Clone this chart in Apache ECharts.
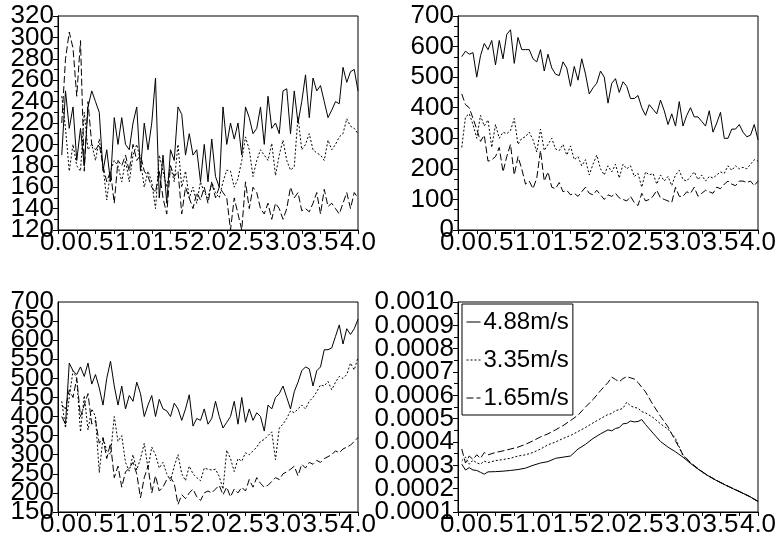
<!DOCTYPE html>
<html>
<head>
<meta charset="utf-8">
<script src="https://cdn.jsdelivr.net/npm/echarts@6/dist/echarts.min.js"></script>
<style>
html,body{margin:0;padding:0;background:#fff;}
#c{width:777px;height:545px;}
</style>
</head>
<body>
<div id="c"></div>
<script>
// x positions (shared by panels 1-3)
const xs = [0.05,0.10,0.15,0.20,0.25,0.30,0.35,0.40,0.45,0.50,
0.55,0.60,0.65,0.70,0.75,0.80,0.85,0.90,0.95,1.00,
1.05,1.10,1.15,1.20,1.25,1.30,1.35,1.40,1.45,1.50,
1.55,1.60,1.65,1.70,1.75,1.80,1.85,1.90,1.95,2.00,
2.05,2.10,2.15,2.20,2.25,2.30,2.35,2.40,2.45,2.50,
2.55,2.60,2.65,2.70,2.75,2.80,2.85,2.90,2.95,3.00,
3.05,3.10,3.15,3.20,3.25,3.30,3.35,3.40,3.45,3.50,
3.55,3.60,3.65,3.70,3.75,3.80,3.85,3.90,3.95,4.00];

const seriesNames = ['4.88m/s','3.35m/s','1.65m/s'];
const xTickLabels = ['0.0','0.5','1.0','1.5','2.0','2.5','3.0','3.5','4.0'];

// Panel 1 (top-left)
const p1_488 = [190,250,215,235,185,215,180,235,250,240,
230,175,195,165,225,200,225,200,195,220,
235,175,220,195,220,262,150,190,145,195,
185,235,228,190,210,190,195,165,200,165,
205,170,160,235,200,220,205,220,190,235,
225,210,215,235,200,245,215,220,210,250,
252,210,250,220,240,265,225,262,250,255,
240,225,232,240,238,272,258,268,270,250];
const p1_335 = [245,215,175,200,180,175,230,195,200,185,
205,180,148,175,185,180,165,185,165,190,
200,185,160,175,165,140,190,175,160,180,
165,200,160,175,150,160,145,165,155,150,
165,155,150,165,176,175,160,168,185,207,
195,170,185,195,190,185,201,171,190,204,
185,176,179,226,195,200,210,195,192,190,
185,204,195,200,207,210,224,217,215,210];
const p1_165 = [220,280,305,290,245,297,175,240,200,195,
200,180,165,175,145,185,180,190,175,200,
185,190,175,170,160,155,175,150,135,180,
170,175,135,160,150,140,155,148,160,145,
165,150,160,155,150,120,150,135,120,165,
140,160,155,140,135,145,130,145,140,130,
140,160,150,155,138,140,137,145,155,135,
158,142,145,140,135,145,155,140,155,150];

// Panel 2 (top-right)
const p2_488 = [567,585,575,580,500,570,610,590,620,540,
620,560,640,655,545,630,590,590,590,560,
550,590,520,575,530,510,505,550,530,470,
535,490,560,510,445,465,480,520,500,415,
480,495,450,485,470,430,430,440,400,375,
410,395,380,425,390,345,380,340,420,340,
375,400,370,370,355,340,390,320,350,385,
300,300,330,330,345,320,305,310,345,295];
const p2_335 = [270,370,380,345,300,375,340,360,270,345,
300,320,315,325,365,280,300,305,320,295,
255,330,260,280,300,265,260,280,245,275,
230,240,210,230,180,215,245,200,180,210,
190,215,170,215,200,210,175,185,140,190,
180,185,150,180,160,175,145,180,195,165,
160,175,190,165,180,160,175,170,180,190,
185,210,195,210,200,205,200,215,230,225];
const p2_165 = [445,410,400,365,330,290,310,225,230,240,
270,190,240,280,180,240,200,150,160,135,
170,260,160,190,140,135,155,125,130,115,
120,110,125,140,120,115,130,115,100,115,
110,120,105,100,95,110,90,80,120,95,
100,110,130,105,100,95,90,140,110,110,
125,120,140,110,120,130,125,120,140,135,
150,160,150,145,160,160,155,160,145,160];

// Panel 3 (bottom-left)
const p3_488 = [400,380,540,520,510,530,505,540,485,510,
475,430,500,545,480,430,480,420,455,440,
490,460,400,430,455,400,445,420,415,400,
435,420,390,420,457,375,395,390,420,380,
395,440,400,370,385,400,440,380,450,385,
420,390,410,400,362,430,420,450,460,480,
450,420,465,490,520,530,525,480,520,530,
575,575,580,610,640,590,630,615,630,655];
const p3_335 = [440,370,450,520,500,360,455,365,420,400,
253,345,310,300,400,335,350,280,257,300,
260,290,330,265,320,300,265,280,250,232,
270,300,250,232,270,250,240,232,265,262,
260,262,243,210,312,290,256,290,283,305,
300,310,320,335,340,350,360,287,370,380,
395,415,410,420,430,420,440,450,465,483,
480,492,470,490,505,500,510,540,522,555];
const p3_165 = [430,420,470,450,500,400,430,460,380,390,
330,345,290,330,240,270,215,255,265,280,
250,187,240,270,200,245,205,215,235,240,
225,170,195,185,200,210,190,180,200,205,
200,210,220,195,215,190,210,200,215,205,
235,215,240,225,215,220,230,240,235,250,
255,262,270,245,275,265,280,275,285,280,
290,295,300,310,305,315,320,325,335,345];

// Panel 4 (bottom-right)
const xs4 = [0.05,0.10,0.15,0.20,0.25,0.30,0.35,0.40,
0.5,0.6,0.7,0.8,0.9,1.0,1.1,1.2,1.3,1.4,1.5,1.6,1.7,1.8,1.9,2.0,
2.05,2.10,2.15,2.20,2.25,2.30,2.35,2.40,2.45,2.50,
2.6,2.7,2.8,2.9,3.0,3.1,3.2,3.3,3.4,3.5,3.6,3.7,3.8,3.9,4.0];
const p4_488 = [3.05e-4,2.80e-4,2.90e-4,2.80e-4,2.78e-4,2.70e-4,2.62e-4,2.72e-4,
2.73e-4,2.75e-4,2.78e-4,2.82e-4,2.88e-4,3.00e-4,3.10e-4,3.16e-4,3.30e-4,3.35e-4,3.40e-4,3.70e-4,3.90e-4,4.15e-4,4.35e-4,4.52e-4,
4.48e-4,4.58e-4,4.62e-4,4.78e-4,4.80e-4,4.90e-4,4.86e-4,4.88e-4,4.96e-4,4.75e-4,
4.38e-4,4.02e-4,3.78e-4,3.58e-4,3.35e-4,3.08e-4,2.84e-4,2.62e-4,2.43e-4,2.26e-4,2.10e-4,1.95e-4,1.80e-4,1.64e-4,1.45e-4];
const p4_335 = [3.20e-4,3.35e-4,3.05e-4,3.22e-4,3.10e-4,3.05e-4,3.18e-4,3.12e-4,
3.20e-4,3.25e-4,3.30e-4,3.40e-4,3.45e-4,3.55e-4,3.70e-4,3.88e-4,4.00e-4,4.15e-4,4.28e-4,4.45e-4,4.62e-4,4.82e-4,5.00e-4,5.18e-4,
5.22e-4,5.35e-4,5.38e-4,5.45e-4,5.70e-4,5.55e-4,5.48e-4,5.45e-4,5.30e-4,5.25e-4,
5.05e-4,4.78e-4,4.55e-4,4.15e-4,3.42e-4,3.10e-4,2.85e-4,2.62e-4,2.43e-4,2.26e-4,2.10e-4,1.95e-4,1.80e-4,1.64e-4,1.45e-4];
const p4_165 = [3.70e-4,3.10e-4,3.40e-4,3.25e-4,3.45e-4,3.30e-4,3.55e-4,3.45e-4,
3.55e-4,3.62e-4,3.70e-4,3.78e-4,3.90e-4,4.05e-4,4.22e-4,4.35e-4,4.52e-4,4.70e-4,4.92e-4,5.15e-4,5.50e-4,5.82e-4,6.20e-4,6.55e-4,
6.78e-4,6.68e-4,6.58e-4,6.72e-4,6.80e-4,6.75e-4,6.70e-4,6.55e-4,6.35e-4,6.15e-4,
5.60e-4,5.10e-4,4.65e-4,4.05e-4,3.45e-4,3.12e-4,2.86e-4,2.63e-4,2.44e-4,2.27e-4,2.11e-4,1.96e-4,1.81e-4,1.65e-4,1.46e-4];

const FONT = 'Liberation Sans, Arial, sans-serif';
const lineTypes = ['solid', [2,2], [7,3]];

function pairs(xv, yv){ return xv.map((x,i)=>[x, yv[i]]); }

const grids = [
  {left:58, top:16, width:300, height:214},
  {left:458, top:16, width:300, height:214},
  {left:58, top:302, width:300, height:210},
  {left:458, top:302, width:300, height:210}
].map(g => Object.assign({show:true, borderColor:'#000', borderWidth:1, containLabel:false, outerBoundsMode:'none'}, g));

function xAxis(i){
  return {
    type:'value', gridIndex:i, min:0, max:4, interval:0.25,
    axisLine:{show:true, lineStyle:{color:'#000', width:1}},
    axisTick:{show:true, length:4, lineStyle:{color:'#000'}},
    splitLine:{show:false},
    axisLabel:{
      color:'#000', fontSize:26, fontFamily:FONT, margin:0,
      showMinLabel:true, showMaxLabel:true, hideOverlap:false,
      formatter: v => { const k = Math.round(v*2); return Math.abs(v*2-k) < 1e-6 ? xTickLabels[k] : ''; }
    }
  };
}
// parity: null = all labels; 0 = even-index labels; 1 = odd-index labels
function yAxis(i, min, max, interval, split, fmt, parity){
  const n = Math.round((max - min) / interval);
  const show = k => parity === null || (k % 2) === parity;
  const primary = parity === null || parity === 0;
  return {
    type:'value', gridIndex:i, position:'left', offset:0,
    min:min, max:max, interval:interval,
    axisLine:{show:primary, lineStyle:{color:'#000', width:1}},
    axisTick:{show:primary, length:5, lineStyle:{color:'#000'}},
    minorTick:{show: primary && split>1, splitNumber:split, length:4, lineStyle:{color:'#000'}},
    splitLine:{show:false}, minorSplitLine:{show:false},
    axisLabel:{color:'#000', fontSize:26, fontFamily:FONT, margin:4, hideOverlap:false,
      showMinLabel: show(0), showMaxLabel: show(n),
      formatter: v => { const k = Math.round((v - min) / interval); return show(k) ? fmt(v) : ''; }}
  };
}

const panels = [
  [xs, p1_488, p1_335, p1_165],
  [xs, p2_488, p2_335, p2_165],
  [xs, p3_488, p3_335, p3_165],
  [xs4, p4_488, p4_335, p4_165]
];
const series = [];
panels.forEach((p, gi) => {
  for (let s = 0; s < 3; s++) {
    series.push({
      name: seriesNames[s], type:'line', xAxisIndex:gi, yAxisIndex:gi,
      data: pairs(p[0], p[s+1]), symbol:'none', showSymbol:false, silent:true,
      lineStyle:{color:'#000', width:1, type: lineTypes[s]},
      itemStyle:{color:'#000'}
    });
  }
});

const f0 = v => String(Math.round(v));
const f4 = v => v.toFixed(4);

const chart = echarts.init(document.getElementById('c'), null, {renderer:'canvas'});
chart.setOption({
  animation:false,
  backgroundColor:'#fff',
  grid: grids,
  xAxis: [xAxis(0), xAxis(1), xAxis(2), xAxis(3)],
  yAxis: [
    yAxis(0, 120, 320, 20, 2, f0, 0),
    yAxis(1, 0, 700, 100, 3, f0, null),
    yAxis(2, 150, 700, 50, 1, f0, 0),
    yAxis(3, 0.0001, 0.0010, 0.0001, 2, f4, 0),
    yAxis(0, 120, 320, 20, 2, f0, 1),
    yAxis(2, 150, 700, 50, 1, f0, 1),
    yAxis(3, 0.0001, 0.0010, 0.0001, 2, f4, 1)
  ],
  legend: {
    data: seriesNames, left:462, top:304, orient:'vertical',
    padding:[6,4,5,4], itemGap:14, itemWidth:14, itemHeight:12,
    borderColor:'#000', borderWidth:1, backgroundColor:'#fff',
    itemStyle:{opacity:0, borderWidth:0},
    lineStyle:{color:'#000', width:1},
    textStyle:{color:'#000', fontSize:24, fontFamily:FONT, padding:[0,0,0,-2]},
    selectedMode:false
  },
  series: series
});
</script>
</body>
</html>
